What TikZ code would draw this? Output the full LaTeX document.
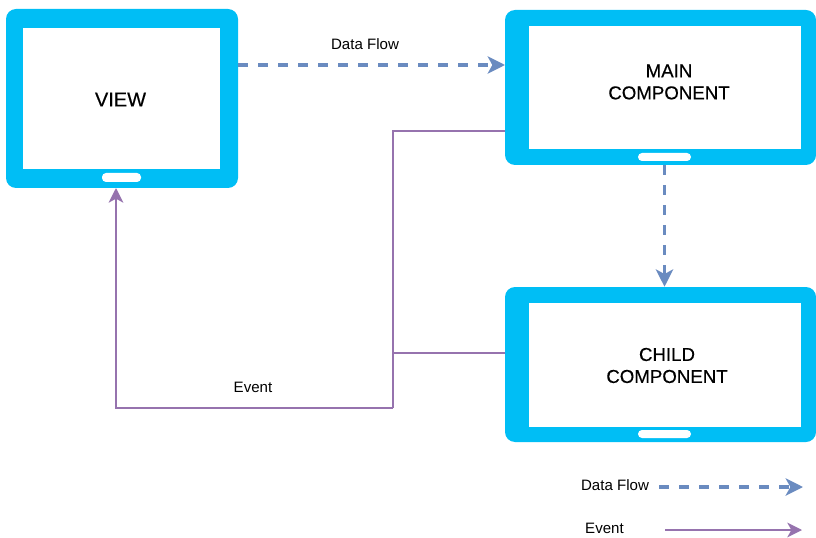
\documentclass[tikz,border=0pt]{standalone}
\usepackage{fontspec}
\setmainfont{Liberation Sans}[BoldFont={Liberation Sans}, BoldFeatures={FakeBold=0.4}]
\usetikzlibrary{arrows.meta}

\begin{document}
\begin{tikzpicture}[
  x=0.75pt, y=-0.75pt,
  frame/.style={fill=tabletblue, rounded corners=7.5pt, inner sep=0pt},
  screen/.style={fill=white, inner sep=0pt},
  homebutton/.style={fill=white, rounded corners=3pt, inner sep=0pt},
  tablabel/.style={align=center, font=\fontsize{14}{16.5}\selectfont\bfseries, text=black},
  smalllabel/.style={font=\fontsize{11.3}{13}\selectfont, text=black},
  dataflow/.style={draw=flowblue, line width=2.4pt, dash pattern=on 7.5pt off 7.5pt,
                   -{Stealth[length=13pt, width=13pt, inset=3.5pt, sep=0pt]}},
  eventline/.style={draw=eventpurple, line width=1.5pt},
  eventarrow/.style={eventline, -{Stealth[length=11pt, width=11pt, inset=3pt]}}
]
\definecolor{tabletblue}{HTML}{00BEF5}
\definecolor{flowblue}{HTML}{6A8BC0}
\definecolor{eventpurple}{HTML}{9673AE}

\useasboundingbox (0,0) rectangle (816,538);

\node[frame, minimum width=174pt, minimum height=134.25pt] (viewframe) at (122,98.5) {};
\node[screen, minimum width=147.75pt, minimum height=105.75pt] (viewscreen) at (121.5,98.5) {};
\node[homebutton, minimum width=29.25pt, minimum height=6.75pt] (viewbutton) at (121.5,177.5) {};
\node[tablabel, font=\fontsize{15}{16.5}\selectfont\bfseries] (viewlabel) at (120.5,99.5) {VIEW};

\node[frame, minimum width=233.25pt, minimum height=116.25pt] (mainframe) at (660.5,87.5) {};
\node[screen, minimum width=204pt, minimum height=92.25pt] (mainscreen) at (665,87.5) {};
\node[homebutton, minimum width=39.75pt, minimum height=6pt] (mainbutton) at (664.5,157) {};
\node[tablabel] (mainlabel) at (669,82) {MAIN\\COMPONENT};

\node[frame, minimum width=233.25pt, minimum height=116.25pt] (childframe) at (660.5,364.5) {};
\node[screen, minimum width=204pt, minimum height=93pt] (childscreen) at (665,365) {};
\node[homebutton, minimum width=39.75pt, minimum height=6pt] (childbutton) at (664.5,434) {};
\node[tablabel] (childlabel) at (667,365.5) {CHILD\\COMPONENT};

\node[smalllabel] (flowlabel) at (365,44) {Data Flow};
\node[smalllabel] (eventlabel) at (253,387.5) {Event};
\node[smalllabel] (legendflow) at (615,485) {Data Flow};
\node[smalllabel] (legendevent) at (604.5,528.5) {Event};

\coordinate (viewout) at (238,65);
\coordinate (mainin) at (505,65);
\coordinate (mainout) at (505,131);
\coordinate (childout) at (505,353);
\coordinate (busjoin) at (393,353);
\coordinate (buscorner) at (393,408);
\coordinate (viewin) at (116,188);
\coordinate (legendflowstart) at (659,487);
\coordinate (legendflowend) at (803,487);
\coordinate (legendeventstart) at (665,530);
\coordinate (legendeventend) at (802,530);

\draw[dataflow] (viewout) -- (mainin);
\draw[dataflow] (mainframe.south -| mainbutton) -- (childframe.north -| mainbutton);
\draw[dataflow] (legendflowstart) -- (legendflowend);

\draw[eventline] (mainout) -| (buscorner);
\draw[eventline] (childout) -- (busjoin);
\draw[eventarrow] (buscorner) -| (viewin);
\draw[eventarrow] (legendeventstart) -- (legendeventend);

\end{tikzpicture}
\end{document}
